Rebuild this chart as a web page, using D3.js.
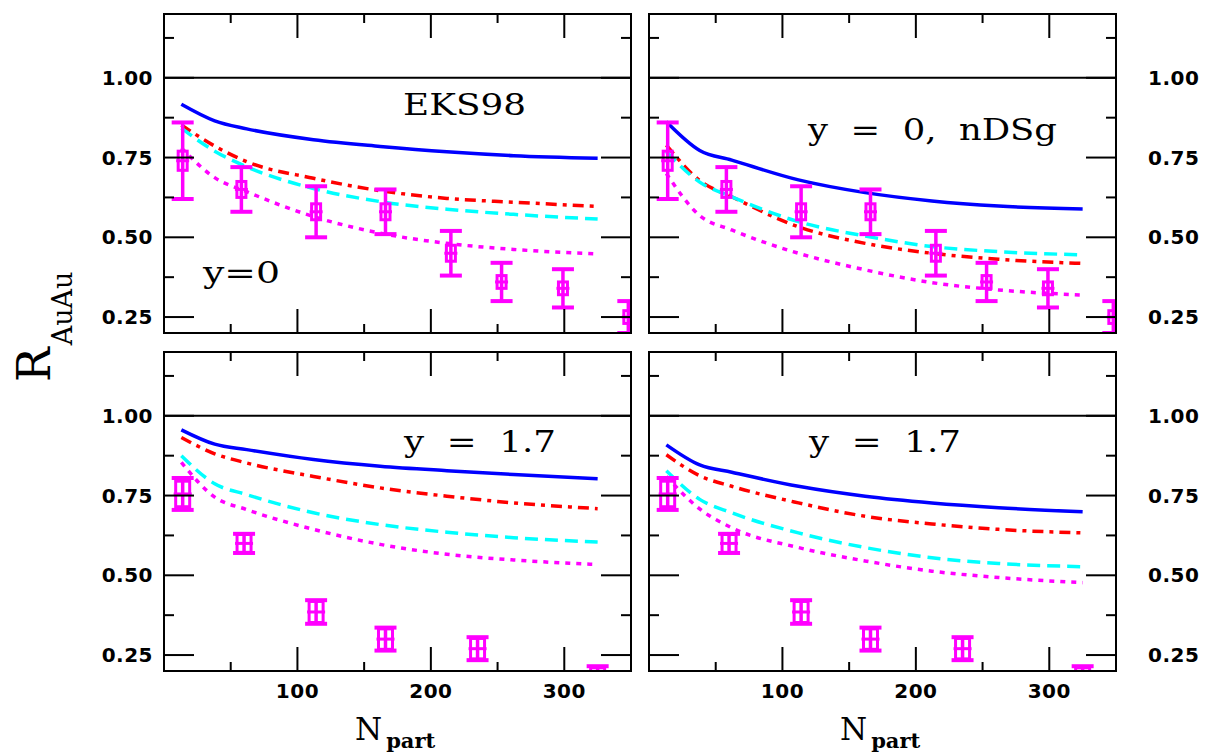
<!DOCTYPE html>
<html>
<head>
<meta charset="utf-8">
<script src="https://cdn.jsdelivr.net/npm/d3@7"></script>
<style>
  body { margin: 0; background: #fff; }
  .tick-label { font-family: "DejaVu Sans", sans-serif; font-weight: bold; font-size: 20px; letter-spacing: 0.5px; }
  .panel-text { font-family: "DejaVu Serif", serif; font-size: 30px; white-space: pre; }
</style>
</head>
<body>
<svg id="chart" width="1206" height="756"></svg>
<script>
// Data points (same measurements shown in both panels of a row)
var nPartTop = [14, 58, 114, 166, 215, 253, 299, 348];
var rTop     = [0.74, 0.65, 0.58, 0.58, 0.45, 0.36, 0.34, 0.25];
var errTop   = [0.12, 0.07, 0.08, 0.07, 0.07, 0.06, 0.06, 0.05];
var sysTop   = [0.03, 0.025, 0.025, 0.025, 0.025, 0.02, 0.02, 0.02];

var nPartBot = [14, 60, 114, 166, 235, 325];
var rBot     = [0.755, 0.60, 0.385, 0.30, 0.27, 0.18];
var errBot   = [0.05, 0.03, 0.037, 0.036, 0.036, 0.035];
var sysBot   = [0.04, 0.028, 0.033, 0.032, 0.032, 0.03];

// Model curves, sampled on a common N_part grid
var nCurve = [13, 38, 62, 112, 162, 212, 262, 325];

var tlBlue    = [0.917, 0.865, 0.840, 0.806, 0.785, 0.768, 0.756, 0.748];
var tlRed     = [0.852, 0.786, 0.737, 0.685, 0.646, 0.622, 0.610, 0.597];
var tlCyan    = [0.842, 0.770, 0.721, 0.653, 0.612, 0.588, 0.572, 0.557];
var tlMagenta = [0.780, 0.687, 0.643, 0.565, 0.513, 0.481, 0.462, 0.448];

var trBlue    = [0.862, 0.772, 0.742, 0.680, 0.640, 0.614, 0.598, 0.589];
var trRed     = [0.789, 0.678, 0.627, 0.533, 0.481, 0.450, 0.431, 0.418];
var trCyan    = [0.768, 0.673, 0.627, 0.549, 0.504, 0.471, 0.455, 0.445];
var trMagenta = [0.700, 0.568, 0.523, 0.450, 0.398, 0.358, 0.335, 0.319];

var blBlue    = [0.956, 0.911, 0.894, 0.863, 0.842, 0.828, 0.816, 0.803];
var blRed     = [0.932, 0.881, 0.852, 0.810, 0.774, 0.748, 0.727, 0.709];
var blCyan    = [0.875, 0.787, 0.753, 0.696, 0.659, 0.635, 0.618, 0.604];
var blMagenta = [0.854, 0.745, 0.706, 0.644, 0.597, 0.566, 0.548, 0.534];

var brBlue    = [0.909, 0.846, 0.823, 0.779, 0.748, 0.727, 0.712, 0.699];
var brRed     = [0.878, 0.812, 0.779, 0.727, 0.685, 0.661, 0.644, 0.633];
var brCyan    = [0.828, 0.738, 0.696, 0.633, 0.587, 0.555, 0.537, 0.527];
var brMagenta = [0.810, 0.708, 0.649, 0.587, 0.545, 0.513, 0.493, 0.477];

var yMajor = [0.25, 0.50, 0.75, 1.00];
var yMinor = [0.375, 0.625, 0.875, 1.125];
var xMajor = [100, 200, 300];
var xMinor = [50, 150, 250];

var panelLabels = ["EKS98", "y  =  0,  nDSg", "y  =  1.7", "y  =  1.7"];

// Layout
var COL_X = [164, 649], ROW_Y = [14, 352];
var PW = 467, PH = 319;

var svg = d3.select("#chart");

var styles = [
  { color: "#0000ff", dash: null },
  { color: "#ff0000", dash: "11,6,4,6" },
  { color: "#00ffff", dash: "13,7" },
  { color: "#ff00ff", dash: "5,6" }
];

var panels = [
  { col: 0, row: 0, curves: [tlBlue, tlRed, tlCyan, tlMagenta], n: nPartTop, r: rTop, e: errTop, s: sysTop, bw: 9,
    texts: [{ t: panelLabels[0], x: 403, y: 115, w: 123 }, { t: "y=0", x: 203, y: 283, w: 77 }] },
  { col: 1, row: 0, curves: [trBlue, trRed, trCyan, trMagenta], n: nPartTop, r: rTop, e: errTop, s: sysTop, bw: 9,
    texts: [{ t: panelLabels[1], x: 808, y: 140, w: 249 }] },
  { col: 0, row: 1, curves: [blBlue, blRed, blCyan, blMagenta], n: nPartBot, r: rBot, e: errBot, s: sysBot, bw: 14,
    texts: [{ t: panelLabels[2], x: 404, y: 452, w: 152 }] },
  { col: 1, row: 1, curves: [brBlue, brRed, brCyan, brMagenta], n: nPartBot, r: rBot, e: errBot, s: sysBot, bw: 14,
    texts: [{ t: panelLabels[3], x: 809, y: 452, w: 152 }] }
];

panels.forEach(function(p, i) {
  var x0 = COL_X[p.col], y0 = ROW_Y[p.row];
  var x = d3.scaleLinear().domain([0, 350]).range([x0, x0 + PW]);
  var y = d3.scaleLinear().domain([0.2, 1.2]).range([y0 + PH, y0]);

  var clipId = "clip" + i;
  svg.append("clipPath").attr("id", clipId)
    .append("rect").attr("x", x0).attr("y", y0).attr("width", PW).attr("height", PH);

  var g = svg.append("g");
  var inner = g.append("g").attr("clip-path", "url(#" + clipId + ")");

  // R = 1 reference line
  g.append("line")
    .attr("x1", x0).attr("x2", x0 + PW)
    .attr("y1", y(1)).attr("y2", y(1))
    .attr("stroke", "#000").attr("stroke-width", 2);

  // model curves
  var line = d3.line()
    .x(function(d, k) { return x(nCurve[k]); })
    .y(function(d) { return y(d); })
    .curve(d3.curveMonotoneX);

  p.curves.forEach(function(c, k) {
    inner.append("path")
      .attr("d", line(c))
      .attr("fill", "none")
      .attr("stroke", styles[k].color)
      .attr("stroke-width", 3.5)
      .attr("stroke-dasharray", styles[k].dash);
  });

  // data points: stat bars with caps + systematic boxes
  var pts = p.n.map(function(n, k) { return { n: n, r: p.r[k], e: p.e[k], s: p.s[k] }; });
  var pg = inner.selectAll("g.pt").data(pts).enter().append("g").attr("class", "pt")
    .attr("stroke", "#ff00ff").attr("fill", "none");
  var hw = p.bw / 2;

  pg.append("line")
    .attr("x1", function(d) { return x(d.n); }).attr("x2", function(d) { return x(d.n); })
    .attr("y1", function(d) { return y(d.r + d.e); }).attr("y2", function(d) { return y(d.r - d.e); })
    .attr("stroke-width", 3.5);
  pg.append("line")
    .attr("x1", function(d) { return x(d.n) - 11; }).attr("x2", function(d) { return x(d.n) + 11; })
    .attr("y1", function(d) { return y(d.r + d.e); }).attr("y2", function(d) { return y(d.r + d.e); })
    .attr("stroke-width", 4);
  pg.append("line")
    .attr("x1", function(d) { return x(d.n) - 11; }).attr("x2", function(d) { return x(d.n) + 11; })
    .attr("y1", function(d) { return y(d.r - d.e); }).attr("y2", function(d) { return y(d.r - d.e); })
    .attr("stroke-width", 4);
  pg.append("rect")
    .attr("x", function(d) { return x(d.n) - hw; })
    .attr("width", p.bw)
    .attr("y", function(d) { return y(d.r + d.s); })
    .attr("height", function(d) { return y(d.r - d.s) - y(d.r + d.s); })
    .attr("stroke-width", 3);
  pg.append("line")
    .attr("x1", function(d) { return x(d.n) - hw - 2; }).attr("x2", function(d) { return x(d.n) + hw + 2; })
    .attr("y1", function(d) { return y(d.r); }).attr("y2", function(d) { return y(d.r); })
    .attr("stroke-width", 3);

  // frame
  g.append("rect")
    .attr("x", x0).attr("y", y0).attr("width", PW).attr("height", PH)
    .attr("fill", "none").attr("stroke", "#000").attr("stroke-width", 2);

  // inward ticks on all four sides
  function yTicks(vals, len) {
    vals.forEach(function(v) {
      g.append("line").attr("x1", x0).attr("x2", x0 + len).attr("y1", y(v)).attr("y2", y(v))
        .attr("stroke", "#000").attr("stroke-width", 2);
      g.append("line").attr("x1", x0 + PW).attr("x2", x0 + PW - len).attr("y1", y(v)).attr("y2", y(v))
        .attr("stroke", "#000").attr("stroke-width", 2);
    });
  }
  function xTicks(vals, len) {
    vals.forEach(function(v) {
      g.append("line").attr("x1", x(v)).attr("x2", x(v)).attr("y1", y0).attr("y2", y0 + len)
        .attr("stroke", "#000").attr("stroke-width", 2);
      g.append("line").attr("x1", x(v)).attr("x2", x(v)).attr("y1", y0 + PH).attr("y2", y0 + PH - len)
        .attr("stroke", "#000").attr("stroke-width", 2);
    });
  }
  yTicks(yMajor, 30);
  yTicks(yMinor, 10);
  xTicks(xMajor, 24);
  xTicks(xMinor, 9);

  // y tick labels: left column on left, right column on right
  yMajor.forEach(function(v) {
    g.append("text").attr("class", "tick-label")
      .attr("x", p.col === 0 ? x0 - 11 : x0 + PW + 32)
      .attr("y", y(v) + 7)
      .attr("text-anchor", p.col === 0 ? "end" : "start")
      .text(d3.format(".2f")(v));
  });

  // x tick labels on bottom row
  if (p.row === 1) {
    xMajor.forEach(function(v) {
      g.append("text").attr("class", "tick-label")
        .attr("x", x(v)).attr("y", 698)
        .attr("text-anchor", "middle")
        .text(v);
    });
    var lab = g.append("text")
      .attr("x", x0 + 191).attr("y", 740)
      .attr("font-family", "DejaVu Serif, serif");
    lab.append("tspan").attr("font-size", 31).text("N");
    lab.append("tspan").attr("font-size", 21).attr("font-weight", "bold").attr("dy", 8).attr("dx", 4).text("part");
  }

  // panel annotations
  p.texts.forEach(function(t) {
    g.append("text").attr("class", "panel-text")
      .attr("x", t.x).attr("y", t.y)
      .attr("textLength", t.w).attr("lengthAdjust", "spacingAndGlyphs")
      .text(t.t);
  });
});

// y axis title
var yl = svg.append("text")
  .attr("transform", "translate(50,382) rotate(-90)")
  .attr("font-family", "DejaVu Serif, serif");
yl.append("tspan").attr("font-size", 46).text("R");
yl.append("tspan").attr("font-size", 27).attr("dy", 22).attr("dx", 2).text("AuAu");
</script>
</body>
</html>
